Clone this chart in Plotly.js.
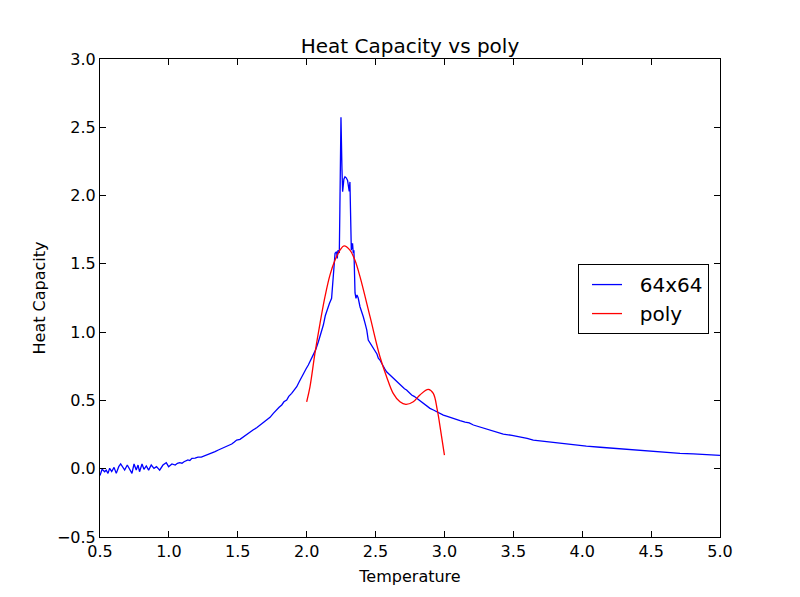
<!DOCTYPE html>
<html>
<head>
<meta charset="utf-8">
<script src="https://cdn.plot.ly/plotly-3.0.1.min.js"></script>
<style>html,body{margin:0;padding:0;background:#fff;}#chart{width:800px;height:597px;}</style>
</head>
<body>
<div id="chart"></div>
<script>
var blueT = [0.50,0.515,0.534,0.545,0.558,0.57,0.585,0.602,0.618,0.636,0.65,0.667,0.679,0.698,0.716,0.732,0.747,0.763,0.776,0.787,0.805,0.819,0.836,0.853,0.872,0.892,0.91,0.933,0.957,0.981,0.998,1.022,1.046,1.062,1.078,1.095,1.11,1.125,1.138,1.152,1.167,1.19,1.211,1.235,1.262,1.285,1.31,1.335,1.359,1.383,1.407,1.43,1.456,1.475,1.492,1.516,1.54,1.565,1.589,1.613,1.637,1.66,1.685,1.71,1.734,1.758,1.782,1.80,1.819,1.835,1.855,1.87,1.891,1.91,1.928,1.945,1.964,1.98,1.995,2.012,2.03,2.048,2.065,2.085,2.10,2.121,2.135,2.15,2.165,2.181,2.193,2.206,2.217,2.222,2.227,2.237,2.241,2.249,2.256,2.261,2.270,2.278,2.287,2.297,2.309,2.314,2.319,2.324,2.329,2.333,2.338,2.343,2.351,2.358,2.365,2.374,2.387,2.40,2.411,2.425,2.436,2.447,2.46,2.472,2.485,2.496,2.51,2.52,2.532,2.545,2.556,2.568,2.58,2.60,2.616,2.635,2.653,2.67,2.689,2.71,2.725,2.745,2.762,2.78,2.798,2.82,2.846,2.87,2.895,2.92,2.943,2.965,2.992,3.015,3.04,3.075,3.113,3.15,3.18,3.21,3.26,3.306,3.36,3.427,3.49,3.548,3.60,3.645,3.74,3.839,3.93,4.03,4.13,4.225,4.32,4.419,4.52,4.613,4.71,4.806,4.90,5.00];
var blueC = [-0.05,-0.004,-0.022,-0.01,-0.034,0.003,-0.02,0.01,-0.034,0.015,0.035,0.01,-0.01,0.027,-0.01,-0.034,0.035,-0.01,0.027,-0.022,0.035,-0.004,0.02,-0.01,0.027,0.003,0.015,-0.01,0.027,0.044,0.015,0.035,0.027,0.04,0.044,0.04,0.051,0.055,0.064,0.06,0.076,0.078,0.085,0.085,0.095,0.105,0.117,0.125,0.137,0.148,0.161,0.168,0.181,0.195,0.21,0.215,0.234,0.25,0.271,0.285,0.30,0.318,0.333,0.357,0.376,0.405,0.435,0.45,0.467,0.49,0.503,0.53,0.552,0.575,0.60,0.635,0.674,0.70,0.73,0.759,0.80,0.833,0.87,0.93,0.98,1.052,1.12,1.175,1.21,1.248,1.443,1.577,1.589,1.54,1.60,1.58,1.9,2.573,2.2,2.028,2.12,2.138,2.13,2.11,2.03,2.10,1.85,1.60,1.64,1.65,1.58,1.60,1.287,1.248,1.272,1.25,1.186,1.15,1.113,1.06,1.016,0.942,0.92,0.906,0.875,0.857,0.84,0.81,0.796,0.77,0.747,0.73,0.71,0.69,0.674,0.655,0.637,0.62,0.60,0.585,0.576,0.555,0.54,0.53,0.516,0.50,0.479,0.46,0.442,0.43,0.417,0.405,0.393,0.385,0.376,0.362,0.352,0.342,0.335,0.32,0.305,0.289,0.27,0.254,0.244,0.234,0.222,0.21,0.198,0.186,0.176,0.166,0.157,0.149,0.14,0.132,0.124,0.117,0.112,0.108,0.103,0.098];
var redT = [2.0,2.024,2.06,2.097,2.133,2.169,2.206,2.242,2.271,2.314,2.35,2.387,2.46,2.532,2.58,2.628,2.677,2.72,2.774,2.822,2.883,2.919,2.948,2.972,3.0];
var redC = [0.49,0.60,0.845,1.065,1.26,1.418,1.528,1.60,1.631,1.60,1.528,1.406,1.113,0.82,0.674,0.552,0.49,0.471,0.49,0.54,0.581,0.552,0.43,0.283,0.10];
var xTicks = [0.5,1.0,1.5,2.0,2.5,3.0,3.5,4.0,4.5,5.0];
var yTicks = [-0.5,0.0,0.5,1.0,1.5,2.0,2.5,3.0];
var seriesNames = ['64x64', 'poly'];

var pad = '\u00a0\u00a0';
var traces = [
  {x: blueT, y: blueC, type: 'scatter', mode: 'lines', name: pad + seriesNames[0],
   line: {color: '#0000ff', width: 1.3}},
  {x: redT, y: redC, type: 'scatter', mode: 'lines', name: pad + seriesNames[1],
   line: {color: '#ff0000', width: 1.3, shape: 'spline', smoothing: 1}}
];
var font = 'DejaVu Sans, sans-serif';
var axisCommon = {
  showline: true, linecolor: '#000', linewidth: 1, mirror: 'ticks',
  ticks: 'inside', ticklen: 6, tickwidth: 1, tickcolor: '#000',
  showgrid: false, zeroline: false, tickfont: {family: font, size: 16, color: '#000'},
  tickformat: '.1f'
};
var layout = {
  width: 800, height: 597,
  paper_bgcolor: '#fff', plot_bgcolor: '#fff',
  margin: {l: 100, r: 80, t: 59, b: 60},
  showlegend: true,
  title: {text: 'Heat Capacity vs poly', font: {family: font, size: 20, color: '#000'},
          x: 0.5125, xanchor: 'center', y: 0.923, yanchor: 'middle'},
  xaxis: Object.assign({}, axisCommon, {range: [0.5, 5.0], tickvals: xTicks,
    title: {text: 'Temperature', font: {family: font, size: 16, color: '#000'}, standoff: 10}}),
  yaxis: Object.assign({}, axisCommon, {range: [-0.5, 3.0], tickvals: yTicks,
    title: {text: 'Heat Capacity', font: {family: font, size: 16, color: '#000'}, standoff: 7}}),
  legend: {x: 0.771, y: 0.571, xanchor: 'left', yanchor: 'top',
    bordercolor: '#000', borderwidth: 1, bgcolor: '#fff', itemwidth: 30,
    indentation: 8, tracegroupgap: 0,
    font: {family: font, size: 20, color: '#000'}}
};
Plotly.newPlot('chart', traces, layout, {displayModeBar: false, staticPlot: true});
</script>
</body>
</html>
